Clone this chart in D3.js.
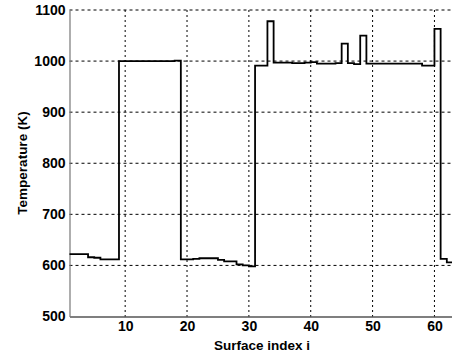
<!DOCTYPE html>
<html>
<head>
<meta charset="utf-8">
<script src="https://cdn.jsdelivr.net/npm/d3@7"></script>
<style>
    body { margin: 0; background: #fff; }
    svg { display: block; }
    .tick text { font-family: "Liberation Sans", Arial, sans-serif; font-size: 14px; font-weight: bold; fill: #000; }
    .label { font-family: "Liberation Sans", Arial, sans-serif; font-size: 13.5px; font-weight: bold; fill: #000; }
</style>
</head>
<body>
<script>
// surface index i (stairs x)
const surfaces = [
    1, 2, 3, 4, 5, 6, 7, 8, 9, 10, 11, 12, 13, 14, 15, 16, 17, 18, 19, 20, 21,
    22, 23, 24, 25, 26, 27, 28, 29, 30, 31, 32, 33, 34, 35, 36, 37, 38, 39, 40, 41, 42,
    43, 44, 45, 46, 47, 48, 49, 50, 51, 52, 53, 54, 55, 56, 57, 58, 59, 60, 61, 62, 63
];

// temperature per surface (K)
const temperatures = [
    622, 622, 622, 616, 615, 612, 612, 612,
    1000, 1000, 1000, 1000, 1000, 1000, 1000, 1000, 1000, 1001,
    612, 612, 613, 614, 614, 614, 611, 608, 608, 602, 600, 598,
    991, 991, 1078,
    997, 997, 997, 996, 996, 997, 998, 995, 995, 995, 996,
    1034, 996, 994, 1050,
    995, 995, 995, 995, 995, 995, 995, 995, 995,
    991, 991, 1063, 613, 606, 606
];

const xTicks = [10, 20, 30, 40, 50, 60];
const yTicks = [500, 600, 700, 800, 900, 1000, 1100];

const width = 452, height = 356;
const margin = { top: 10, right: -1, bottom: 39.5, left: 69.5 };
const innerW = width - margin.left - margin.right;
const innerH = height - margin.top - margin.bottom;

const svg = d3.select("body").append("svg")
    .attr("width", width)
    .attr("height", height);

const g = svg.append("g")
    .attr("transform", `translate(${margin.left},${margin.top})`);

const x = d3.scaleLinear().domain([1, 63]).range([0, innerW]);
const y = d3.scaleLinear().domain([500, 1100]).range([innerH, 0]);

// dotted grid
g.append("g")
    .selectAll("line")
    .data(xTicks)
    .enter().append("line")
    .attr("x1", d => x(d)).attr("x2", d => x(d))
    .attr("y1", 0).attr("y2", innerH)
    .attr("stroke", "#000")
    .attr("stroke-width", 1)
    .attr("stroke-dasharray", "2,3");

g.append("g")
    .selectAll("line")
    .data(yTicks.filter(d => d > 500))
    .enter().append("line")
    .attr("x1", 0).attr("x2", innerW)
    .attr("y1", d => y(d)).attr("y2", d => y(d))
    .attr("stroke", "#000")
    .attr("stroke-width", 1)
    .attr("stroke-dasharray", "3,3");

// axes
const xAxis = g.append("g")
    .attr("transform", `translate(0,${innerH})`)
    .call(d3.axisBottom(x).tickValues(xTicks).tickFormat(d3.format("d")).tickSize(0).tickPadding(5));
xAxis.select(".domain").attr("stroke", "#000").attr("stroke-width", 1.2);

const yAxis = g.append("g")
    .call(d3.axisLeft(y).tickValues(yTicks).tickFormat(d3.format("d")).tickSize(0).tickPadding(4));
yAxis.select(".domain").attr("stroke", "#777").attr("stroke-width", 1.2);

// the temperature stairs
const line = d3.line()
    .x((d, i) => x(surfaces[i]))
    .y(d => y(d))
    .curve(d3.curveStepAfter);

g.append("path")
    .datum(temperatures)
    .attr("fill", "none")
    .attr("stroke", "#000")
    .attr("stroke-width", 1.8)
    .attr("d", line);

// labels
svg.append("text")
    .attr("class", "label")
    .attr("x", 262)
    .attr("y", 350)
    .attr("text-anchor", "middle")
    .text("Surface index i");

svg.append("text")
    .attr("class", "label")
    .attr("transform", "translate(27,163) rotate(-90)")
    .attr("text-anchor", "middle")
    .text("Temperature (K)");
</script>
</body>
</html>
